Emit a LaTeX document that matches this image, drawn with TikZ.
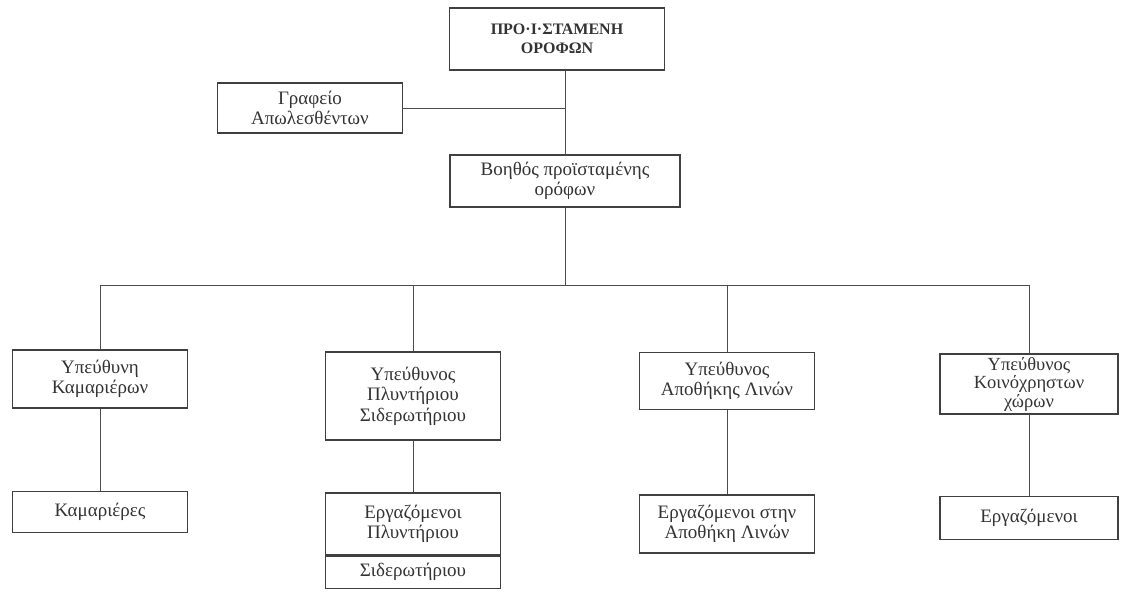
\documentclass[tikz,border=0pt]{standalone}
\usepackage{fontspec}
\setmainfont{Liberation Serif}
\usetikzlibrary{positioning}

\tikzset{
    unit/.style={draw=black!75, line width=1.3pt, align=center, inner sep=1pt,
                 text=black!80, font=\fontsize{19}{20.5}\selectfont},
    head/.style={unit, font=\fontsize{16}{19}\selectfont\bfseries},
    link/.style={draw=black!70, line width=0.9pt}
}

\begin{document}
\begin{tikzpicture}[x=1pt,y=-1pt]
    \useasboundingbox (0,0) rectangle (1130,594); % page as large as the scan
    \pgfmathsetmacro {\busy}{285}  %y-position of the bus line
    \pgfmathsetmacro {\bw}{175}    %width of the lower boxes

    % Top of the chart
    \node[head, minimum width=215pt, minimum height=62pt] (head) at (557,39) {ΠΡΟ·Ι·ΣΤΑΜΕΝΗ\\ΟΡΟΦΩΝ};
    \node[unit, minimum width=185pt, minimum height=50pt] (lost) at (310,108) {Γραφείο\\Απωλεσθέντων};
    \node[unit, minimum width=230pt, minimum height=52pt] (help) at (565,181) {Βοηθός προϊσταμένης\\ορόφων};
    \coordinate (bus) at (565,\busy);  % middle of the bus line

    % Heads of sections
    \node[unit, minimum width=\bw pt, minimum height=58pt] (maids) at (100,379) {Υπεύθυνη\\Καμαριέρων};
    \node[unit, minimum width=\bw pt, minimum height=88pt] (laundry) at (413,396) {Υπεύθυνος\\Πλυντήριου\\Σιδερωτήριου};
    \node[unit, minimum width=\bw pt, minimum height=57pt] (linen) at (727,381) {Υπεύθυνος\\Αποθήκης Λινών};
    \node[unit, minimum width=178pt, minimum height=60pt, inner sep=0pt,
          font=\fontsize{18.5}{18.5}\selectfont] (common) at (1029,384) {Υπεύθυνος\\Κοινόχρηστων\\χώρων};

    % Staff of sections
    \node[unit, minimum width=\bw pt, minimum height=41pt] (maidstaff) at (100,512) {Καμαριέρες};
    \node[unit, minimum width=\bw pt, minimum height=62pt] (laundrystaff) at (413,524) {Εργαζόμενοι\\Πλυντήριου};
    \node[unit, minimum width=\bw pt, minimum height=32pt, below=0pt of laundrystaff] (ironstaff) {Σιδερωτήριου};
    \node[unit, minimum width=\bw pt, minimum height=58pt] (linenstaff) at (727,524) {Εργαζόμενοι στην\\Αποθήκη Λινών};
    \node[unit, minimum width=178pt, minimum height=43pt] (commonstaff) at (1029,518) {Εργαζόμενοι};

    %
    % Connectors
    %
    \draw[link] (help.north |- head.south) -- (help.north);
    \draw[link] (lost.east) -- (lost.east -| help.north);
    \draw[link] (help.south) -- (bus);
    \draw[link] (maids.north) -- (maids.north |- bus) -- (common.north |- bus) -- (common.north);
    \draw[link] (laundry.north) -- (laundry.north |- bus);
    \draw[link] (linen.north) -- (linen.north |- bus);
    \foreach \a/\b in {maids/maidstaff, laundry/laundrystaff, linen/linenstaff, common/commonstaff} {
        \draw[link] (\a.south) -- (\b.north);  % head to staff
    }
\end{tikzpicture}
\end{document}
